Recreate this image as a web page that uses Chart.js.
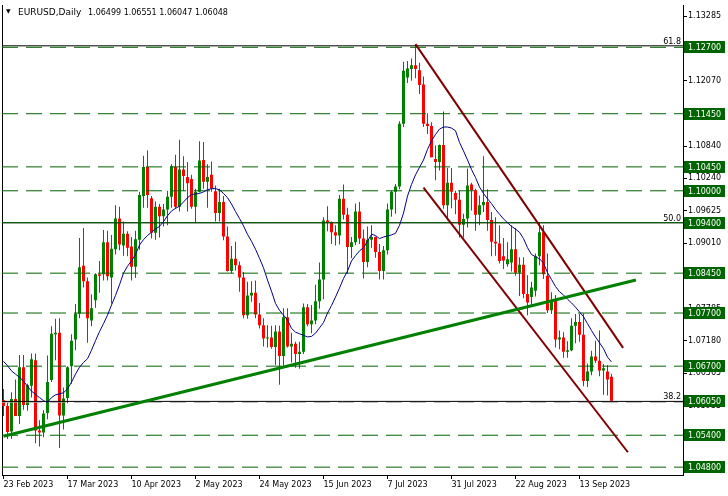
<!DOCTYPE html>
<html><head><meta charset="utf-8">
<script src="https://cdn.jsdelivr.net/npm/chart.js@4.4.0/dist/chart.umd.min.js"></script>
<style>html,body{margin:0;padding:0;background:#fff}#wrap{width:728px;height:496px;position:relative}</style>
</head><body><div id="wrap"><canvas id="c"></canvas></div>
<script>
// ---------- data ----------
const symbolTitle = 'EURUSD,Daily';
const lastQuote = ['1.06499', '1.06551', '1.06047', '1.06048'];

const tickIdx = [0, 16, 32, 48, 64, 80, 96, 112, 128, 144];
const tickLabels = ['23 Feb 2023', '17 Mar 2023', '10 Apr 2023', '2 May 2023', '24 May 2023',
  '15 Jun 2023', '7 Jul 2023', '31 Jul 2023', '22 Aug 2023', '13 Sep 2023'];
const priceTicks = [1.13285, 1.12680, 1.12070, 1.11455, 1.10840, 1.10240, 1.09625, 1.09010,
  1.08395, 1.07785, 1.07180, 1.06565, 1.05955, 1.05345, 1.04735];

const open = [
1.0606,1.0595,1.0547,1.0608,1.0576,1.0668,1.0597,1.0633,1.0681,1.0549,
1.0545,1.0582,1.0644,1.0730,1.0733,1.0577,1.0610,1.0670,1.0720,1.0769,
1.0859,1.0830,1.0756,1.0794,1.0843,1.0843,1.0903,1.0837,1.0890,1.0948,
1.0897,1.0919,1.0895,1.0857,1.0908,1.0990,1.1045,1.0986,1.0921,1.0970,
1.0952,1.0965,1.0989,1.1045,1.0970,1.1040,1.1026,1.1022,1.0970,1.0998,
1.1058,1.1017,1.1030,1.0999,1.0958,1.0979,1.0914,1.0849,1.0872,1.0860,
1.0837,1.0766,1.0803,1.0808,1.0767,1.0747,1.0722,1.0724,1.0706,1.0735,
1.0689,1.0762,1.0707,1.0712,1.0693,1.0697,1.0781,1.0749,1.0756,1.0792,
1.0833,1.0944,1.0940,1.0922,1.0916,1.0985,1.0955,1.0894,1.0903,1.0961,
1.0910,1.0866,1.0908,1.0913,1.0885,1.0849,1.0888,1.0965,1.0998,1.1008,
1.1126,1.1213,1.1229,1.1236,1.1227,1.1200,1.1126,1.1122,1.1060,1.1054,
1.1086,1.0973,1.1015,1.0996,1.0983,1.0936,1.0948,1.1012,1.1001,1.0955,
1.0973,1.0979,1.0945,1.0904,1.0901,1.0877,1.0862,1.0865,1.0890,1.0846,
1.0861,1.0806,1.0800,1.0812,1.0877,1.0922,1.0840,1.0775,1.0793,1.0720,
1.0724,1.0697,1.0700,1.0746,1.0753,1.0729,1.0642,1.0660,1.0688,1.0680,
1.0662,1.0660,1.06499];
const high = [
1.0627,1.0601,1.0621,1.0645,1.0691,1.0691,1.0637,1.0694,1.0694,1.0568,
1.0587,1.0690,1.0745,1.0759,1.0760,1.0630,1.0670,1.0730,1.0787,1.0911,
1.0930,1.0837,1.0805,1.0845,1.0868,1.0926,1.0925,1.0917,1.0973,1.0970,
1.0942,1.0924,1.0913,1.0925,1.0998,1.1066,1.1076,1.0990,1.0980,1.0975,
1.0975,1.1000,1.1050,1.1068,1.1096,1.1065,1.1054,1.1030,1.1004,1.1093,
1.1092,1.1050,1.1055,1.1010,1.1004,1.0990,1.0933,1.0896,1.0904,1.0867,
1.0847,1.0829,1.0830,1.0831,1.0789,1.0760,1.0747,1.0746,1.0747,1.0746,
1.0779,1.0779,1.0733,1.0716,1.0716,1.0788,1.0787,1.0785,1.0823,1.0865,
1.0950,1.0971,1.0942,1.0935,1.0992,1.1012,1.0968,1.0913,1.0976,1.0979,
1.0927,1.0933,1.0935,1.0914,1.0900,1.0896,1.0976,1.1000,1.1013,1.1131,
1.1243,1.1244,1.1249,1.1276,1.1241,1.1215,1.1146,1.1129,1.1085,1.1087,
1.1149,1.1043,1.1043,1.1000,1.1000,1.0957,1.1042,1.1015,1.1004,1.0991,
1.1065,1.1003,1.0960,1.0950,1.0935,1.0911,1.0903,1.0935,1.0930,1.0875,
1.0875,1.0841,1.0829,1.0882,1.0940,1.0935,1.0882,1.0809,1.0804,1.0737,
1.0734,1.0717,1.0760,1.0768,1.0768,1.0769,1.0675,1.0699,1.0718,1.0737,
1.0674,1.0672,1.06551];
const low = [
1.0576,1.0533,1.0533,1.0577,1.0561,1.0588,1.0586,1.0611,1.0525,1.0519,
1.0536,1.0570,1.0640,1.0681,1.0516,1.0551,1.0600,1.0637,1.0700,1.0760,
1.0818,1.0714,1.0745,1.0780,1.0808,1.0831,1.0831,1.0788,1.0880,1.0888,
1.0878,1.0877,1.0831,1.0836,1.0889,1.0968,1.0968,1.0910,1.0908,1.0912,
1.0933,1.0935,1.0968,1.0966,1.0961,1.1000,1.0961,1.0966,1.0939,1.0997,
1.1004,1.0968,1.0998,1.0942,1.0942,1.0907,1.0848,1.0845,1.0850,1.0810,
1.0760,1.0759,1.0791,1.0760,1.0741,1.0707,1.0705,1.0703,1.0672,1.0635,
1.0668,1.0705,1.0677,1.0667,1.0665,1.0693,1.0745,1.0732,1.0749,1.0778,
1.0796,1.0924,1.0900,1.0897,1.0899,1.0946,1.0844,1.0873,1.0898,1.0900,
1.0835,1.0856,1.0893,1.0874,1.0833,1.0833,1.0880,1.0951,1.0957,1.1003,
1.1120,1.1203,1.1207,1.1212,1.1182,1.1120,1.1107,1.1063,1.1020,1.1038,
1.0966,1.0944,1.0967,1.0956,1.0912,1.0912,1.0931,1.0963,1.0925,1.0935,
1.0960,1.0925,1.0877,1.0878,1.0863,1.0853,1.0857,1.0848,1.0840,1.0802,
1.0798,1.0766,1.0785,1.0801,1.0860,1.0834,1.0770,1.0768,1.0705,1.0702,
1.0686,1.0686,1.0698,1.0713,1.0716,1.0632,1.0631,1.0653,1.0676,1.0651,
1.0616,1.0615,1.06047];
const close = [
1.0595,1.0546,1.0608,1.0576,1.0668,1.0597,1.0634,1.0683,1.0549,1.0545,
1.0581,1.0640,1.0731,1.0733,1.0577,1.0609,1.0668,1.0718,1.0769,1.0856,
1.0830,1.0760,1.0779,1.0843,1.0840,1.0903,1.0839,1.0891,1.0948,1.0899,
1.0919,1.0893,1.0857,1.0909,1.0992,1.1045,1.0992,1.0921,1.0970,1.0952,
1.0965,1.0989,1.1046,1.0970,1.1040,1.1028,1.1014,1.0970,1.0998,1.1057,
1.1017,1.1026,1.1005,1.0958,1.0979,1.0914,1.0849,1.0872,1.0860,1.0837,
1.0766,1.0803,1.0808,1.0767,1.0747,1.0722,1.0724,1.0706,1.0735,1.0689,
1.0762,1.0707,1.0712,1.0693,1.0697,1.0781,1.0749,1.0756,1.0792,1.0833,
1.0944,1.0940,1.0922,1.0916,1.0985,1.0955,1.0894,1.0903,1.0961,1.0910,
1.0866,1.0908,1.0913,1.0885,1.0849,1.0888,1.0965,1.0998,1.1008,1.1126,
1.1226,1.1230,1.1236,1.1229,1.1199,1.1126,1.1122,1.1063,1.1054,1.1086,
1.0973,1.1015,1.0998,1.0983,1.0936,1.0947,1.1010,1.1001,1.0955,1.0973,
1.0979,1.0945,1.0904,1.0901,1.0868,1.0869,1.0871,1.0890,1.0846,1.0861,
1.0806,1.0790,1.0818,1.0877,1.0922,1.0843,1.0775,1.0793,1.0720,1.0724,
1.0697,1.0700,1.0746,1.0753,1.0729,1.0642,1.0660,1.0688,1.0680,1.0662,
1.0666,1.0645,1.06048];
const movingAvg = [
1.0679,1.0671,1.0661,1.0655,1.0649,1.0642,1.0632,1.0623,1.0617,1.0611,
1.0605,1.0602,1.0611,1.0616,1.0618,1.0620,1.0627,1.0640,1.0655,1.0668,
1.0677,1.0684,1.0700,1.0718,1.0735,1.0750,1.0766,1.0785,1.0803,1.0823,
1.0845,1.0858,1.0868,1.0880,1.0898,1.0908,1.0916,1.0922,1.0928,1.0933,
1.0942,1.0953,1.0962,1.0967,1.0971,1.0979,1.0987,1.0993,1.0994,1.0995,
1.0998,1.1002,1.1004,1.1004,1.1002,1.0995,1.0987,1.0975,1.0961,1.0948,
1.0934,1.0918,1.0905,1.0890,1.0873,1.0855,1.0832,1.0811,1.0788,1.0775,
1.0766,1.0757,1.0741,1.0734,1.0731,1.0728,1.0725,1.0726,1.0732,1.0742,
1.0752,1.0770,1.0784,1.0800,1.0817,1.0835,1.0849,1.0868,1.0878,1.0887,
1.0893,1.0905,1.0918,1.0916,1.0910,1.0913,1.0915,1.0917,1.0920,1.0935,
1.0958,1.0990,1.1012,1.1030,1.1044,1.1058,1.1078,1.1094,1.1106,1.1116,
1.1120,1.1120,1.1118,1.1113,1.1091,1.1075,1.1058,1.1040,1.1025,1.1007,
1.0995,1.0985,1.0976,1.0965,1.0956,1.0947,1.0940,1.0933,1.0928,1.0922,
1.0910,1.0893,1.0880,1.0876,1.0872,1.0864,1.0846,1.0833,1.0820,1.0810,
1.0804,1.0796,1.0789,1.0781,1.0772,1.0763,1.0750,1.0737,1.0725,1.0714,
1.0703,1.0687,1.0678];

const dashedLevels = [1.12700, 1.11450, 1.10450, 1.10000, 1.08450, 1.07700, 1.06700, 1.05400, 1.04800];
const solidLevels = [1.09400];
const greyLevels = [1.06022];
const boxLevels = [1.12700, 1.11450, 1.10450, 1.10000, 1.09400, 1.08450, 1.07700, 1.06700, 1.06050, 1.05400, 1.04800];
const fibLevels = [1.12728, 1.09398, 1.06037];
const fibNames = ['61.8', '50.0', '38.2'];
// trend lines: [bar index, price] anchors
const supportLine = [[0, 1.0538], [158.1, 1.0832]];
const channelTop = [[103, 1.1276], [154.9, 1.07045]];
const channelBottom = [[105, 1.1006], [156.1, 1.0508]];

// ---------- view ----------
const X_MIN = -0.375, X_MAX = 169.875;
const Y_MIN = 1.04652, Y_MAX = 1.13481;
const UP = '#008000', DOWN = '#FF0000', LEVEL = '#006400';
const FONT = 'DejaVu Sans';

const idx = close.map((_, i) => i);
const candleColor = idx.map(i => close[i] >= open[i] ? UP : DOWN);

const lineDs = (pts, color, width, dash, order) => ({
  type: 'line', data: pts.map(p => ({x: p[0], y: p[1]})), borderColor: color, borderWidth: width,
  borderDash: dash || [], pointRadius: 0, fill: false, tension: 0, order: order, xAxisID: 'x', yAxisID: 'y'
});

const datasets = [
  { type: 'bar', data: idx.map(i => ({x: i, y: [low[i], high[i]]})), backgroundColor: candleColor,
    barThickness: 1, grouped: false, inflateAmount: 0, borderWidth: 0, order: 11, xAxisID: 'x', yAxisID: 'y' },
  { type: 'bar', data: idx.map(i => ({x: i, y: [open[i], close[i]]})), backgroundColor: candleColor,
    barThickness: 3, grouped: false, inflateAmount: 0, borderWidth: 0, minBarLength: 1, order: 10, xAxisID: 'x', yAxisID: 'y' },
];
fibLevels.forEach(v => datasets.push(lineDs([[X_MIN, v], [X_MAX, v]], '#000000', 1, null, 6)));
greyLevels.forEach(v => datasets.push(lineDs([[X_MIN, v], [X_MAX, v]], '#A0A0A0', 1, [16, 8], 7)));
dashedLevels.forEach(v => datasets.push(lineDs([[X_MIN, v], [X_MAX, v]], LEVEL, 1, [16, 8], 5)));
solidLevels.forEach(v => datasets.push(lineDs([[X_MIN, v], [X_MAX, v]], LEVEL, 1, null, 5)));
datasets.push(lineDs(idx.map(i => [i, movingAvg[i]]), '#000080', 1, null, 4));
datasets.push(lineDs(supportLine, '#008000', 3, null, 3));
datasets.push(lineDs(channelTop, '#800000', 2, null, 3));
datasets.push(lineDs(channelBottom, '#800000', 2, null, 3));

const overlay = {
  id: 'overlay',
  afterDraw(chart) {
    const ctx = chart.ctx, ys = chart.scales.y, area = chart.chartArea;
    ctx.save();
    // level price boxes on the right axis
    ctx.font = '8px "' + FONT + '"';
    ctx.textBaseline = 'middle';
    ctx.textAlign = 'left';
    boxLevels.forEach(v => {
      const y = Math.round(ys.getPixelForValue(v));
      ctx.fillStyle = LEVEL;
      ctx.fillRect(area.right + 1, y - 6, 41, 12);
      ctx.fillStyle = '#FFFFFF';
      ctx.fillText(v.toFixed(5), area.right + 5, y + 0.5);
    });
    // fibonacci labels
    ctx.fillStyle = '#000000';
    ctx.textAlign = 'right';
    ctx.textBaseline = 'alphabetic';
    fibLevels.forEach((v, k) => {
      const y = ys.getPixelForValue(v);
      ctx.fillText(fibNames[k], area.right - 2, y - 2);
    });
    // title
    ctx.textAlign = 'left';
    ctx.font = '6px "' + FONT + '"';
    ctx.fillText('\u25BC', 6, 13);
    ctx.font = '9px "' + FONT + '"';
    ctx.fillText(symbolTitle, 18, 15);
    ctx.font = '8px "' + FONT + '"';
    ctx.fillText(lastQuote.join(' '), 88, 15);
    ctx.restore();
  }
};

new Chart(document.getElementById('c'), {
  type: 'bar',
  data: { datasets },
  options: {
    responsive: true, maintainAspectRatio: false, animation: false, devicePixelRatio: 1,
    events: [],
    layout: { padding: 0 },
    plugins: { legend: { display: false }, tooltip: { enabled: false } },
    scales: {
      x: {
        type: 'linear', min: X_MIN, max: X_MAX, offset: false, position: 'bottom',
        grid: { display: true, drawOnChartArea: false, drawTicks: true, tickLength: 4, color: '#000', offset: false },
        border: { display: true, color: '#000', width: 1 },
        ticks: {
          autoSkip: false, maxRotation: 0, minRotation: 0, align: 'start', padding: 1, color: '#000',
          font: { family: FONT, size: 8 },
          callback: v => { const k = tickIdx.indexOf(v); return k >= 0 ? tickLabels[k] : ''; }
        },
        afterBuildTicks: s => { s.ticks = tickIdx.map(v => ({ value: v })); },
        afterFit: s => { s.height = 21; }
      },
      y: {
        type: 'linear', position: 'right', min: Y_MIN, max: Y_MAX,
        grid: { display: true, drawOnChartArea: false, drawTicks: true, tickLength: 4, color: '#000' },
        border: { display: true, color: '#000', width: 1 },
        ticks: { autoSkip: false, padding: 1, color: '#000', font: { family: FONT, size: 8 },
          callback: v => Number(v).toFixed(5) },
        afterBuildTicks: s => { s.ticks = priceTicks.map(v => ({ value: v })); },
        afterFit: s => { s.width = 45; }
      },
      yl: {
        type: 'linear', position: 'left', display: true,
        ticks: { display: false }, grid: { display: false },
        border: { display: true, color: '#000', width: 1 },
        afterFit: s => { s.width = 2; }
      }
    }
  },
  plugins: [overlay]
});
</script>
</body></html>
